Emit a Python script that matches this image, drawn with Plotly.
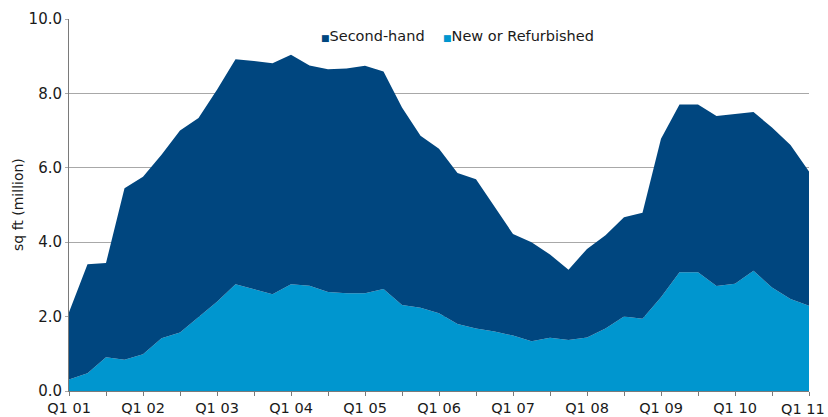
import plotly.graph_objects as go

quarters = ["Q1 01","Q2 01","Q3 01","Q4 01","Q1 02","Q2 02","Q3 02","Q4 02",
            "Q1 03","Q2 03","Q3 03","Q4 03","Q1 04","Q2 04","Q3 04","Q4 04",
            "Q1 05","Q2 05","Q3 05","Q4 05","Q1 06","Q2 06","Q3 06","Q4 06",
            "Q1 07","Q2 07","Q3 07","Q4 07","Q1 08","Q2 08","Q3 08","Q4 08",
            "Q1 09","Q2 09","Q3 09","Q4 09","Q1 10","Q2 10","Q3 10","Q4 10",
            "Q1 11"]

total = [2.12, 3.41, 3.44, 5.45, 5.76, 6.35, 7.0, 7.34,
         8.1, 8.92, 8.87, 8.81, 9.04, 8.75, 8.65, 8.67,
         8.74, 8.59, 7.62, 6.86, 6.51, 5.86, 5.69, 4.95,
         4.22, 4.0, 3.67, 3.26, 3.82, 4.19, 4.67, 4.79,
         6.78, 7.7, 7.7, 7.39, 7.45, 7.5, 7.08, 6.61,
         5.9]

new_refurb = [0.31, 0.48, 0.91, 0.84, 0.99, 1.42, 1.57, 1.98,
              2.4, 2.87, 2.73, 2.6, 2.87, 2.83, 2.66, 2.63,
              2.63, 2.74, 2.31, 2.24, 2.09, 1.8, 1.68, 1.6,
              1.49, 1.34, 1.43, 1.37, 1.44, 1.68, 2.0, 1.94,
              2.52, 3.19, 3.19, 2.82, 2.88, 3.23, 2.78, 2.47,
              2.29]

second_hand = [round(t - n, 2) for t, n in zip(total, new_refurb)]

series_names = ["Second-hand", "New or Refurbished"]

x_idx = list(range(len(quarters)))
tick_vals = x_idx[::2]
tick_text = [quarters[i] if i % 4 == 0 else "" for i in tick_vals]
# the last label is drawn as an annotation, right-aligned so it stays on the page
last_label = tick_text[-1]
tick_text[-1] = ""

DARK = "#00467f"
LIGHT = "#0096cf"
FONT = "DejaVu Sans"
TXT = "#1a1a1a"

fig = go.Figure()
fig.add_trace(go.Scatter(
    x=x_idx, y=new_refurb, name=series_names[1], stackgroup="one",
    mode="lines", line=dict(width=0, color=LIGHT), fillcolor=LIGHT,
    customdata=quarters, hovertemplate="%{customdata}: %{y}<extra></extra>"))
fig.add_trace(go.Scatter(
    x=x_idx, y=second_hand, name=series_names[0], stackgroup="one",
    mode="lines", line=dict(width=0, color=DARK), fillcolor=DARK,
    customdata=quarters, hovertemplate="%{customdata}: %{y}<extra></extra>"))

legend_text = (
    f"<span style='font-size:9px;color:{DARK}'>■</span>{series_names[0]}"
    f"    <span style='font-size:9px;color:{LIGHT}'>■</span>{series_names[1]}"
)
fig.add_annotation(text=legend_text, xref="paper", yref="paper",
                   x=(319 - 69) / 740, y=(391 - 36) / 372,
                   xanchor="left", yanchor="middle", showarrow=False,
                   font=dict(family=FONT, size=14.5, color=TXT))

fig.add_annotation(text="sq ft (million)", xref="paper", yref="paper",
                   x=(18 - 69) / 740, y=(391 - 205) / 372, textangle=-90,
                   xanchor="center", yanchor="middle", showarrow=False,
                   font=dict(family=FONT, size=14, color=TXT))

fig.add_annotation(text=last_label, xref="paper", yref="paper",
                   x=(826 - 69) / 740, y=0, xanchor="right", yanchor="top",
                   yshift=-9, showarrow=False, borderpad=0,
                   font=dict(family=FONT, size=14.5, color=TXT))

fig.update_layout(
    width=828, height=417,
    margin=dict(l=69, r=19, t=19, b=26, autoexpand=False),
    paper_bgcolor="white", plot_bgcolor="white",
    font=dict(family=FONT, size=15, color=TXT),
    showlegend=False,
    xaxis=dict(range=[0, 40], tickmode="array", tickvals=tick_vals, ticktext=tick_text,
               showgrid=False, zeroline=False, showline=True, linecolor="#7a7a7a",
               linewidth=1, ticks="outside", ticklen=4, tickcolor="#7a7a7a",
               tickfont=dict(size=14.5), automargin=False, ticklabeloverflow="allow"),
    yaxis=dict(range=[0, 10], tickmode="array", tickvals=[0, 2, 4, 6, 8, 10],
               tickformat=".1f", showgrid=True, gridcolor="#a8a8a8", gridwidth=1,
               zeroline=False, showline=True, linecolor="#7a7a7a", linewidth=1,
               ticks="outside", ticklen=3, tickcolor="#a8a8a8",
               tickfont=dict(size=15), automargin=False, ticklabeloverflow="allow"),
)

fig.write_html("out.html", config={"displayModeBar": False},
               post_script="document.body.style.margin='0';document.body.style.overflow='hidden';")
